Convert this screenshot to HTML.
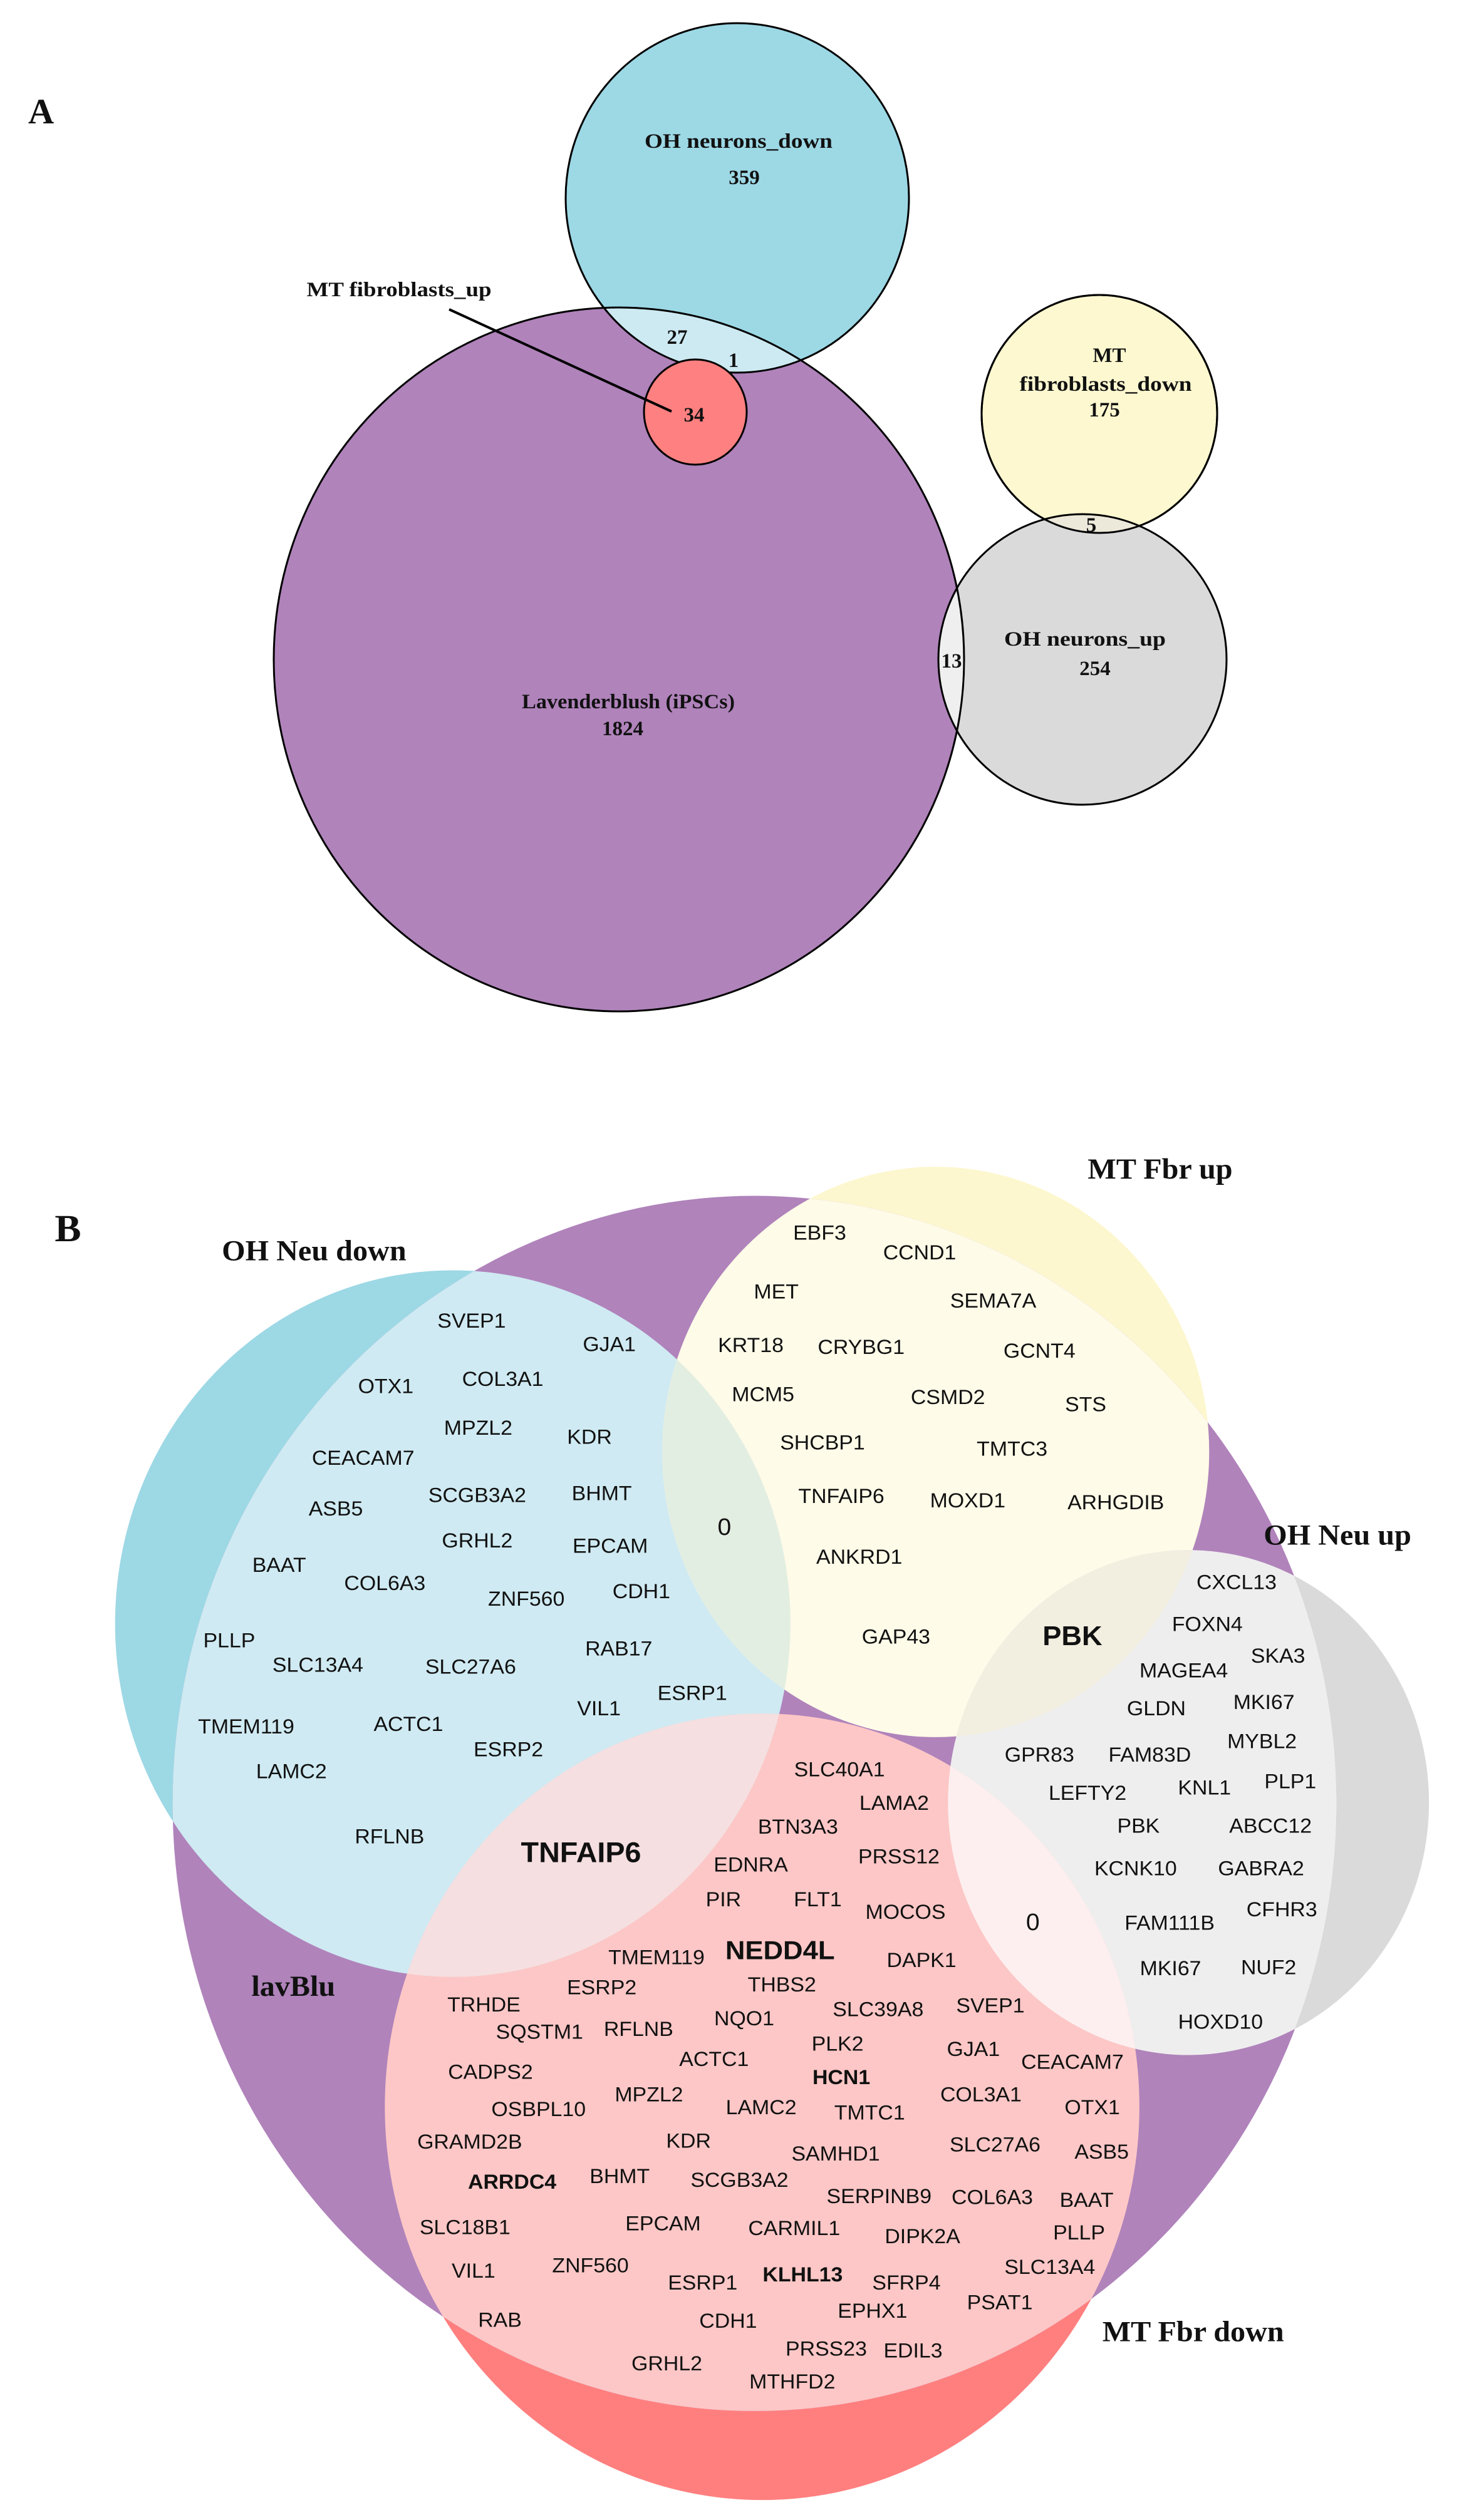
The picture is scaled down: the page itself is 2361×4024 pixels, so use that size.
<!DOCTYPE html>
<html><head><meta charset="utf-8"><style>
html,body{margin:0;padding:0;background:#fff}
svg{display:block}
.s{font-family:"Liberation Serif",serif;font-weight:bold;fill:#111}
.g{font-family:"Liberation Sans",sans-serif;fill:#111;font-size:22.5px}
.b{font-weight:bold}
</style></head><body>
<svg width="2361" height="4024" viewBox="0 0 2361 4024" xmlns="http://www.w3.org/2000/svg">
<defs>
<clipPath id="cpA"><ellipse cx="988" cy="1053" rx="551" ry="562"/></clipPath>
<clipPath id="cyA"><ellipse cx="1755" cy="661" rx="188" ry="190"/></clipPath>
<clipPath id="pB"><ellipse cx="800" cy="779" rx="617" ry="669"/></clipPath>
<clipPath id="bB"><ellipse cx="480" cy="581" rx="358" ry="389"/></clipPath>
<clipPath id="yB"><ellipse cx="992" cy="392" rx="290" ry="314"/></clipPath>
<clipPath id="rB"><ellipse cx="808" cy="1113" rx="400" ry="433"/></clipPath>
</defs>

<!-- PART A -->
<text class="s" x="45" y="197" font-size="57">A</text>
<ellipse cx="988" cy="1053" rx="551" ry="562" fill="#b083bb"/>
<ellipse cx="1177" cy="316" rx="274" ry="279" fill="#9dd8e5"/>
<ellipse cx="1177" cy="316" rx="274" ry="279" fill="#cdeaf2" clip-path="url(#cpA)"/>
<ellipse cx="1177" cy="316" rx="274" ry="279" fill="none" stroke="#000" stroke-width="3"/>
<ellipse cx="1755" cy="661" rx="188" ry="190" fill="#fdf8d0" stroke="#000" stroke-width="3"/>
<ellipse cx="1728" cy="1053" rx="230" ry="232" fill="#dadada"/>
<ellipse cx="1728" cy="1053" rx="230" ry="232" fill="#efefef" clip-path="url(#cpA)"/>
<ellipse cx="1728" cy="1053" rx="230" ry="232" fill="#ece8da" clip-path="url(#cyA)"/>
<ellipse cx="1728" cy="1053" rx="230" ry="232" fill="none" stroke="#000" stroke-width="3"/>
<ellipse cx="1755" cy="661" rx="188" ry="190" fill="none" stroke="#000" stroke-width="3"/>
<ellipse cx="988" cy="1053" rx="551" ry="562" fill="none" stroke="#000" stroke-width="3"/>
<ellipse cx="1110" cy="658" rx="82" ry="84" fill="#ff8080" stroke="#000" stroke-width="3"/>
<line x1="717" y1="494" x2="1072" y2="657" stroke="#000" stroke-width="4"/>
<g class="s" font-size="33" text-anchor="middle">
<text x="1179" y="236" textLength="300" lengthAdjust="spacingAndGlyphs">OH neurons_down</text>
<text x="1188" y="294">359</text>
<text x="637" y="473" textLength="295" lengthAdjust="spacingAndGlyphs">MT fibroblasts_up</text>
<text x="1081" y="549">27</text>
<text x="1171" y="586">1</text>
<text x="1108" y="673">34</text>
<text x="1771" y="578">MT</text>
<text x="1765" y="624" textLength="275" lengthAdjust="spacingAndGlyphs">fibroblasts_down</text>
<text x="1763" y="665">175</text>
<text x="1742" y="849">5</text>
<text x="1732" y="1031" textLength="258" lengthAdjust="spacingAndGlyphs">OH neurons_up</text>
<text x="1748" y="1078">254</text>
<text x="1519" y="1066">13</text>
<text x="1003" y="1131" textLength="340" lengthAdjust="spacingAndGlyphs">Lavenderblush (iPSCs)</text>
<text x="994" y="1174">1824</text>
</g>

<!-- PART B -->
<g transform="translate(0,1750) scale(1.5057,1.4503)">
<ellipse cx="480" cy="581" rx="358" ry="389" fill="#9dd8e5"/>
<ellipse cx="992" cy="392" rx="290" ry="314" fill="#fdf7cf"/>
<ellipse cx="1260" cy="778" rx="255" ry="278" fill="#dadada"/>
<ellipse cx="808" cy="1113" rx="400" ry="433" fill="#ff7f7f"/>
<ellipse cx="800" cy="779" rx="617" ry="669" fill="#b083bb"/>
<g clip-path="url(#pB)">
<ellipse cx="480" cy="581" rx="358" ry="389" fill="#cfeaf2"/>
<ellipse cx="992" cy="392" rx="290" ry="314" fill="#fefbe8"/>
<ellipse cx="1260" cy="778" rx="255" ry="278" fill="#eeeeee"/>
<ellipse cx="808" cy="1113" rx="400" ry="433" fill="#fcc7c6"/>
<ellipse cx="992" cy="392" rx="290" ry="314" fill="#e3eee2" clip-path="url(#bB)"/>
<ellipse cx="808" cy="1113" rx="400" ry="433" fill="#f5dfe1" clip-path="url(#bB)"/>
<ellipse cx="1260" cy="778" rx="255" ry="278" fill="#f2eee0" clip-path="url(#yB)"/>
<ellipse cx="1260" cy="778" rx="255" ry="278" fill="#fdefef" clip-path="url(#rB)"/>
</g>
<g class="s" font-size="32">
<text x="58" y="160" font-size="42">B</text>
<text x="333" y="181" text-anchor="middle">OH Neu down</text>
<text x="1230" y="91" text-anchor="middle">MT Fbr up</text>
<text x="1418" y="494" text-anchor="middle">OH Neu up</text>
<text x="311" y="991" text-anchor="middle">lavBlu</text>
<text x="1265" y="1371" text-anchor="middle">MT Fbr down</text>
</g>
<g class="g" text-anchor="middle" dominant-baseline="central">
<text x="500" y="248">SVEP1</text><text x="646" y="274">GJA1</text><text x="409" y="320">OTX1</text><text x="533" y="312">COL3A1</text>
<text x="507" y="366">MPZL2</text><text x="625" y="376">KDR</text><text x="385" y="399">CEACAM7</text><text x="356" y="455">ASB5</text>
<text x="506" y="440">SCGB3A2</text><text x="638" y="438">BHMT</text><text x="506" y="490">GRHL2</text><text x="647" y="496">EPCAM</text>
<text x="296" y="517">BAAT</text><text x="408" y="537">COL6A3</text><text x="558" y="554">ZNF560</text><text x="680" y="546">CDH1</text>
<text x="243" y="600">PLLP</text><text x="337" y="627">SLC13A4</text><text x="499" y="629">SLC27A6</text><text x="656" y="609">RAB17</text>
<text x="635" y="675">VIL1</text><text x="734" y="658">ESRP1</text><text x="261" y="695">TMEM119</text><text x="433" y="692">ACTC1</text>
<text x="539" y="720">ESRP2</text><text x="309" y="744">LAMC2</text><text x="413" y="816">RFLNB</text><text x="768" y="475" font-size="26">0</text>

<text x="869" y="151">EBF3</text><text x="975" y="173">CCND1</text><text x="823" y="216">MET</text><text x="1053" y="226">SEMA7A</text>
<text x="796" y="275">KRT18</text><text x="913" y="277">CRYBG1</text><text x="1102" y="281">GCNT4</text><text x="809" y="329">MCM5</text>
<text x="1005" y="332">CSMD2</text><text x="1151" y="340">STS</text><text x="872" y="382">SHCBP1</text><text x="1073" y="389">TMTC3</text>
<text x="892" y="441">TNFAIP6</text><text x="1026" y="446">MOXD1</text><text x="1183" y="448">ARHGDIB</text><text x="911" y="508">ANKRD1</text>
<text x="950" y="596">GAP43</text><text x="1137" y="595" class="b" font-size="30">PBK</text>

<text x="1311" y="536">CXCL13</text><text x="1280" y="582">FOXN4</text><text x="1255" y="633">MAGEA4</text><text x="1355" y="617">SKA3</text>
<text x="1226" y="675">GLDN</text><text x="1340" y="668">MKI67</text><text x="1338" y="711">MYBL2</text><text x="1102" y="726">GPR83</text>
<text x="1219" y="726">FAM83D</text><text x="1153" y="768">LEFTY2</text><text x="1277" y="762">KNL1</text><text x="1368" y="755">PLP1</text>
<text x="1207" y="804">PBK</text><text x="1347" y="804">ABCC12</text><text x="1204" y="851">KCNK10</text><text x="1337" y="851">GABRA2</text>
<text x="1240" y="911">FAM111B</text><text x="1359" y="896">CFHR3</text><text x="1241" y="961">MKI67</text><text x="1345" y="960">NUF2</text>
<text x="1294" y="1020">HOXD10</text><text x="1095" y="910" font-size="26">0</text>

<text x="616" y="833" class="b" font-size="31">TNFAIP6</text>
<text x="890" y="742">SLC40A1</text><text x="948" y="779">LAMA2</text><text x="846" y="805">BTN3A3</text><text x="796" y="847">EDNRA</text>
<text x="953" y="838">PRSS12</text><text x="767" y="885">PIR</text><text x="867" y="885">FLT1</text><text x="960" y="899">MOCOS</text>
<text x="827" y="941" class="b" font-size="29">NEDD4L</text><text x="696" y="949">TMEM119</text><text x="977" y="952">DAPK1</text>
<text x="638" y="982">ESRP2</text><text x="829" y="979">THBS2</text><text x="513" y="1001">TRHDE</text><text x="572" y="1031">SQSTM1</text>
<text x="677" y="1028">RFLNB</text><text x="789" y="1016">NQO1</text><text x="931" y="1006">SLC39A8</text><text x="1050" y="1002">SVEP1</text>
<text x="520" y="1075">CADPS2</text><text x="757" y="1061">ACTC1</text><text x="888" y="1044">PLK2</text><text x="1032" y="1050">GJA1</text>
<text x="1137" y="1064">CEACAM7</text><text x="892" y="1081" class="b">HCN1</text><text x="571" y="1116">OSBPL10</text><text x="688" y="1100">MPZL2</text>
<text x="807" y="1114">LAMC2</text><text x="922" y="1120">TMTC1</text><text x="1040" y="1100">COL3A1</text><text x="1158" y="1114">OTX1</text>
<text x="498" y="1152">GRAMD2B</text><text x="730" y="1151">KDR</text><text x="886" y="1165">SAMHD1</text><text x="1055" y="1155">SLC27A6</text>
<text x="1168" y="1163">ASB5</text><text x="543" y="1196" class="b">ARRDC4</text><text x="657" y="1190">BHMT</text><text x="784" y="1194">SCGB3A2</text>
<text x="932" y="1212">SERPINB9</text><text x="1052" y="1213">COL6A3</text><text x="1152" y="1216">BAAT</text><text x="493" y="1246">SLC18B1</text>
<text x="703" y="1242">EPCAM</text><text x="842" y="1247">CARMIL1</text><text x="978" y="1256">DIPK2A</text><text x="1144" y="1252">PLLP</text>
<text x="502" y="1294">VIL1</text><text x="626" y="1288">ZNF560</text><text x="745" y="1307">ESRP1</text><text x="851" y="1298" class="b">KLHL13</text>
<text x="961" y="1307">SFRP4</text><text x="1113" y="1290">SLC13A4</text><text x="1060" y="1329">PSAT1</text><text x="925" y="1338">EPHX1</text>
<text x="530" y="1348">RAB</text><text x="772" y="1349">CDH1</text><text x="876" y="1380">PRSS23</text><text x="968" y="1382">EDIL3</text>
<text x="707" y="1396">GRHL2</text><text x="840" y="1416">MTHFD2</text>
</g>
</g>
</svg>
</body></html>
